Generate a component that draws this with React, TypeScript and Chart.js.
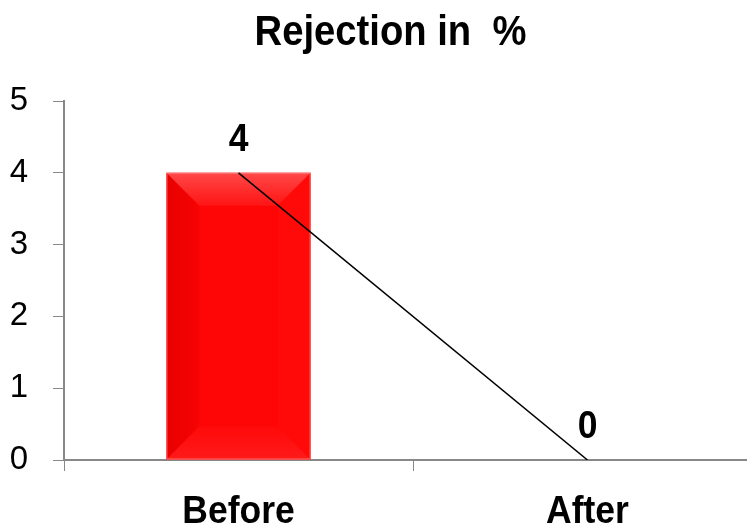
import React, { useEffect, useRef } from "react";
import { Chart, registerables } from "chart.js";

Chart.register(...registerables);

const categories = ["Before", "After"];
const barValues = [4, 0];
const lineValues = [4, 0];
const dataLabels = ["4", "0"];
const yTicks = [0, 1, 2, 3, 4, 5];
const titleText = "Rejection in  %";

const SANS = "'Liberation Sans', Arial, sans-serif";
const SQUEEZE = 0.91;

function narrowText(ctx: CanvasRenderingContext2D, text: string, x: number, y: number, size: number) {
  ctx.save();
  ctx.font = `bold ${size}px ${SANS}`;
  ctx.fillStyle = "#000";
  ctx.textAlign = "center";
  ctx.textBaseline = "alphabetic";
  ctx.translate(x, y);
  ctx.scale(SQUEEZE, 1);
  ctx.fillText(text, 0, 0);
  ctx.restore();
}

const bevelPlugin = {
  id: "bevel",
  afterDatasetDraw(chart: any, args: any) {
    const meta = chart.getDatasetMeta(args.index);
    if (meta.type !== "bar") return;
    const ctx = chart.ctx;
    meta.data.forEach((el: any) => {
      const { x, y, base, width } = el.getProps(["x", "y", "base", "width"], true);
      const h = base - y;
      if (h <= 1) return;
      const l = x - width / 2;
      const r = x + width / 2;
      const t = y;
      const b = base;
      const d = Math.min(33, width / 4, h / 4);
      ctx.save();
      ctx.fillStyle = "#ff0606";
      ctx.fillRect(l, t, width, h);
      let g = ctx.createLinearGradient(l, 0, l + d, 0);
      g.addColorStop(0, "#e80000");
      g.addColorStop(1, "#f70303");
      ctx.fillStyle = g;
      ctx.beginPath();
      ctx.moveTo(l, t);
      ctx.lineTo(l + d, t + d);
      ctx.lineTo(l + d, b - d);
      ctx.lineTo(l, b);
      ctx.closePath();
      ctx.fill();
      ctx.fillStyle = "#ff0909";
      ctx.beginPath();
      ctx.moveTo(r, t);
      ctx.lineTo(r - d, t + d);
      ctx.lineTo(r - d, b - d);
      ctx.lineTo(r, b);
      ctx.closePath();
      ctx.fill();
      g = ctx.createLinearGradient(0, t, 0, t + d);
      g.addColorStop(0, "#ff4848");
      g.addColorStop(1, "#ff1414");
      ctx.fillStyle = g;
      ctx.beginPath();
      ctx.moveTo(l, t);
      ctx.lineTo(r, t);
      ctx.lineTo(r - d, t + d);
      ctx.lineTo(l + d, t + d);
      ctx.closePath();
      ctx.fill();
      g = ctx.createLinearGradient(0, b - d, 0, b);
      g.addColorStop(0, "#ff0a0a");
      g.addColorStop(1, "#ff1a1a");
      ctx.fillStyle = g;
      ctx.beginPath();
      ctx.moveTo(l, b);
      ctx.lineTo(r, b);
      ctx.lineTo(r - d, b - d);
      ctx.lineTo(l + d, b - d);
      ctx.closePath();
      ctx.fill();
      ctx.strokeStyle = "rgba(255,130,130,0.8)";
      ctx.lineWidth = 1;
      ctx.strokeRect(l + 0.5, t + 0.5, width - 1, h - 1);
      ctx.restore();
    });
  },
};

const textPlugin = {
  id: "texts",
  afterDraw(chart: any) {
    const ctx = chart.ctx;
    narrowText(ctx, titleText, chart.width / 2, 45, 42);
    const xs = chart.scales.x;
    categories.forEach((c, i) => {
      narrowText(ctx, c, xs.getPixelForTick(i), xs.top + 63, 39);
    });
    const idx = chart.data.datasets.findIndex((d: any) => d.type === "line");
    const meta = chart.getDatasetMeta(idx);
    meta.data.forEach((pt: any, i: number) => {
      narrowText(ctx, dataLabels[i], pt.x, pt.y - 22, 39);
    });
  },
};

export default function App() {
  const ref = useRef<HTMLCanvasElement>(null);
  useEffect(() => {
    document.body.style.margin = "0";
    const chart = new Chart(ref.current!, {
      type: "bar",
      data: {
        labels: categories,
        datasets: [
          {
            type: "line",
            data: lineValues,
            borderColor: "#000",
            borderWidth: 1.5,
            pointRadius: 0,
            fill: false,
            tension: 0,
            order: 0,
          } as any,
          {
            type: "bar",
            data: barValues,
            backgroundColor: "rgba(0,0,0,0)",
            categoryPercentage: 1,
            barPercentage: 0.413,
            order: 1,
          },
        ],
      },
      options: {
        animation: false,
        responsive: false,
        devicePixelRatio: 1,
        layout: { padding: { left: 0, right: 19, top: 101, bottom: 0 } },
        plugins: {
          legend: { display: false },
          tooltip: { enabled: false },
          title: { display: false },
        },
        scales: {
          x: {
            offset: true,
            grid: {
              offset: true,
              drawOnChartArea: false,
              drawTicks: true,
              tickLength: 11,
              color: "#888",
            },
            border: { color: "#888", width: 2 },
            ticks: { display: false },
            afterFit: (s: any) => {
              s.height = 65;
            },
          },
          y: {
            min: 0,
            max: 5,
            afterBuildTicks: (s: any) => {
              s.ticks = yTicks.map((v) => ({ value: v }));
            },
            grid: {
              drawOnChartArea: false,
              drawTicks: true,
              tickLength: 11,
              color: "#888",
            },
            border: { color: "#888", width: 2 },
            ticks: {
              color: "#000",
              font: { family: SANS, size: 33 },
              padding: 25,
            },
            afterFit: (s: any) => {
              s.width = 64;
            },
          },
        },
      },
      plugins: [bevelPlugin, textPlugin],
    });
    return () => chart.destroy();
  }, []);
  return (
    <div style={{ position: "absolute", left: 0, top: 0, width: 747, height: 525, overflow: "hidden", background: "#fff" }}>
      <canvas ref={ref} width={781} height={525} style={{ width: 781, height: 525 }} />
    </div>
  );
}
